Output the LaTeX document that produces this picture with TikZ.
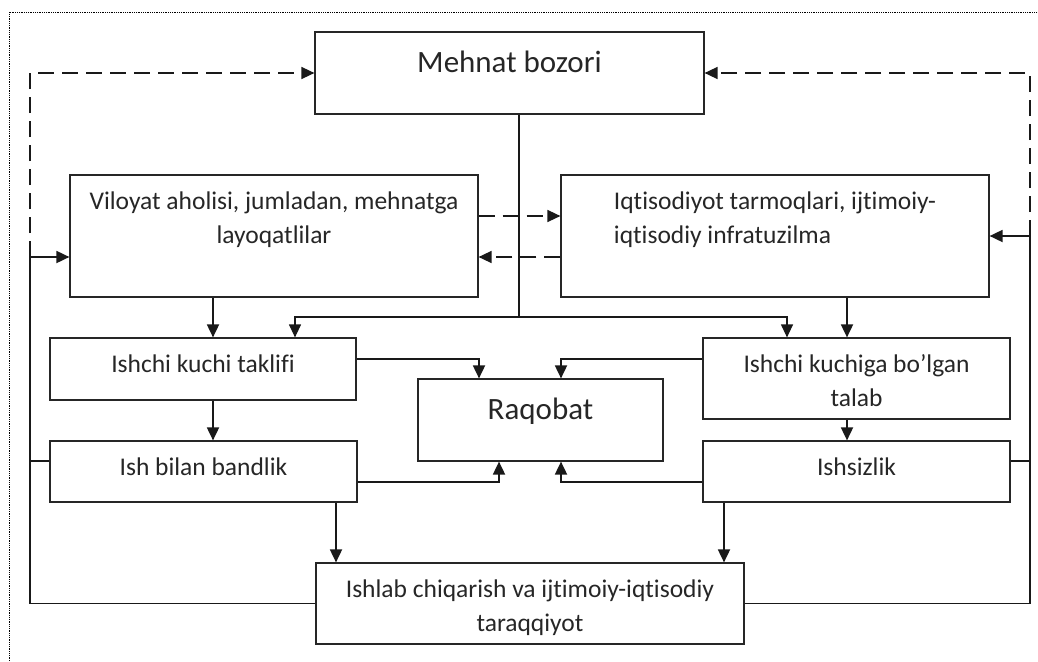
\documentclass[tikz,border=0pt]{standalone}
\usepackage{fontspec}
\setmainfont[Ligatures={NoCommon}]{Carlito}
\usepackage{tikz}
\usetikzlibrary{arrows.meta}
\usetikzlibrary{positioning,calc}

\begin{document}
\begin{tikzpicture}[
x=1pt,y=-1pt,
MyBox/.style={draw=black!85,line width=1.2pt,inner sep=0pt},
SmallText/.style={font=\fontsize{25.5}{34}\selectfont,inner sep=0pt,align=center,text=black!85},
BigText/.style={font=\fontsize{31}{38}\selectfont,inner sep=0pt,text=black!85},
Links/.style={draw=black!90,line width=1.8pt,-{Triangle[length=13pt,width=12pt]}},
Branch/.style={draw=black!90,line width=1.2pt,-{Triangle[length=13pt,width=12pt]}},
DashLinks/.style={Links,line width=1.5pt,dash pattern=on 16pt off 8pt},
Stubs/.style={draw=black!90,line width=1.2pt}
]
\useasboundingbox (0,0) rectangle (1038,661);
\draw[densely dotted,line width=0.8pt] (9,661) -- (9,12) -- (1038,12);

% boxes
\node[MyBox,minimum width=389pt,minimum height=82pt] (bozor) at (509.5,73) {};
\node[MyBox,minimum width=408pt,minimum height=122pt] (aholi) at (274,236) {};
\node[MyBox,minimum width=428pt,minimum height=122pt] (tarmoq) at (775,236) {};
\node[MyBox,minimum width=306pt,minimum height=62pt] (taklif) at (203,369) {};
\node[MyBox,minimum width=307pt,minimum height=81pt] (talab) at (856.5,378.5) {};
\node[MyBox,minimum width=245pt,minimum height=82pt] (raqobat) at (540.5,420) {};
\node[MyBox,minimum width=307pt,minimum height=61pt] (bandlik) at (203.5,471.5) {};
\node[MyBox,minimum width=307pt,minimum height=61pt] (ishsiz) at (856.5,471.5) {};
\node[MyBox,minimum width=428pt,minimum height=81pt] (taraqqiy) at (530,603.5) {};

% texts
\node[BigText,below=19pt of bozor.north] (bozorText) {Mehnat bozori};
\node[SmallText,below=17pt of aholi.north] (aholiText) {Viloyat aholisi, jumladan, mehnatga\\layoqatlilar};
\node[SmallText,align=left,below=17pt of tarmoq.north] (tarmoqText) {Iqtisodiyot tarmoqlari, ijtimoiy-\\iqtisodiy infratuzilma};
\node[SmallText,below=17pt of taklif.north] (taklifText) {Ishchi kuchi taklifi};
\node[SmallText,below=17pt of talab.north] (talabText) {Ishchi kuchiga bo’lgan\\talab};
\node[BigText,below=19pt of raqobat.north] (raqobatText) {Raqobat};
\node[SmallText,below=17pt of bandlik.north] (bandlikText) {Ish bilan bandlik};
\node[SmallText,below=17pt of ishsiz.north] (ishsizText) {Ishsizlik};
\node[SmallText,below=17pt of taraqqiy.north] (taraqqiyText) {Ishlab chiqarish va ijtimoiy-iqtisodiy\\taraqqiyot};

% columns and rows of the connectors
\coordinate (cA) at (213,0);
\coordinate (cB) at (847,0);
\coordinate (cC) at (295,0);
\coordinate (cD) at (787,0);
\coordinate (cE) at (479,0);
\coordinate (cF) at (561,0);
\coordinate (cG) at (499,0);
\coordinate (cH) at (336,0);
\coordinate (cI) at (724,0);
\coordinate (rA) at (0,359);
\coordinate (rB) at (0,482);
\coordinate (st) at (0,461);
\coordinate (dA) at (0,216);
\coordinate (dB) at (0,257);
\coordinate (br) at (519,317);
\coordinate (lc) at (30,257);
\coordinate (rc) at (1030,236);

% straight down
\draw[Links] (aholi.south -| cA) -- (taklif.north -| cA);
\draw[Links] (taklif.south -| cA) -- (bandlik.north -| cA);
\draw[Links] (tarmoq.south -| cB) -- (talab.north -| cB);
\draw[Links] (talab.south -| cB) -- (ishsiz.north -| cB);
\draw[Links] (bandlik.south -| cH) -- (taraqqiy.north -| cH);
\draw[Links] (ishsiz.south -| cI) -- (taraqqiy.north -| cI);

% from the market
\draw[Stubs] (bozor.south -| br) -- (br);
\draw[Branch] (br) -| (taklif.north -| cC);
\draw[Branch] (br) -| (talab.north -| cD);

% into competition
\draw[Links] (taklif.east |- rA) -| (raqobat.north -| cE);
\draw[Links] (talab.west |- rA) -| (raqobat.north -| cF);
\draw[Links] (bandlik.east |- rB) -| (raqobat.south -| cG);
\draw[Links] (ishsiz.west |- rB) -| (raqobat.south -| cF);

% feedback
\draw[Links] (taraqqiy.west) -| (lc) -- (lc -| aholi.west);
\draw[Links] (taraqqiy.east) -| (rc) -- (tarmoq.east);
\draw[Stubs] (bandlik.west |- st) -- (st -| lc);
\draw[Stubs] (ishsiz.east |- st) -- (st -| rc);

% dashed
\draw[DashLinks] (lc) |- (bozor.west);
\draw[DashLinks] (rc) |- (bozor.east);
\draw[DashLinks] (aholi.east |- dA) -- (tarmoq.west |- dA);
\draw[DashLinks] (tarmoq.west |- dB) -- (aholi.east |- dB);

\end{tikzpicture}
\end{document}
